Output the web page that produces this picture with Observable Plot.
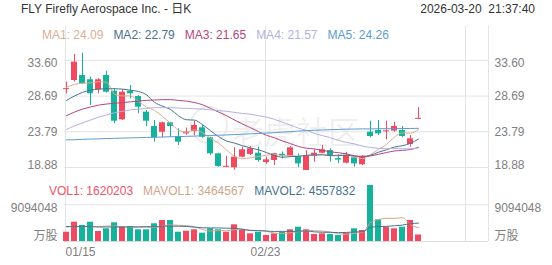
<!DOCTYPE html>
<html><head><meta charset="utf-8">
<script src="https://cdn.jsdelivr.net/npm/d3@7"></script>
<script src="https://cdn.jsdelivr.net/npm/@observablehq/plot@0.6"></script>
<style>
body{margin:0;background:#fff;}
#wrap{position:relative;width:552px;height:265px;overflow:hidden;font-family:"Liberation Sans",Arial,"Noto Sans CJK SC",sans-serif;font-size:12px;}
.abs{position:absolute;white-space:pre;line-height:14px;}
.row{position:absolute;display:flex;gap:10px;white-space:pre;line-height:14px;}
#price,#vol{position:absolute;left:0;}
#price{top:0;} #vol{top:175px;}
#wm{position:absolute;left:232px;top:107px;color:rgba(0,0,0,0.07);font-size:32px;font-family:"Noto Sans CJK SC",sans-serif;white-space:pre;}
#wmc{position:absolute;left:190px;top:106px;width:34px;height:34px;border:2px solid rgba(0,0,0,0.07);border-radius:50%;}
</style></head><body><div id="wrap">
<div id="wmc"></div><div id="wm">老虎社区</div>
<div id="price"></div><div id="vol"></div>
</div>
<script>
// ---- data ----
const dates = ["01/15","01/16","01/20","01/21","01/22","01/23","01/26","01/27","01/28","01/29","01/30","02/02","02/03","02/04","02/05","02/06","02/09","02/10","02/11","02/12","02/13","02/17","02/18","02/19","02/20","02/23","02/24","02/25","02/26","02/27","03/02","03/03","03/04","03/05","03/06","03/09","03/10","03/11","03/12","03/13","03/16","03/17","03/18","03/19","03/20"];
const open  = [29.60,30.83,31.52,30.93,29.55,31.52,29.36,25.43,29.36,28.63,26.48,24.51,23.73,25.02,23.14,23.50,23.83,24.33,22.96,20.76,18.92,18.84,20.30,20.67,20.84,19.57,19.84,20.70,20.39,20.39,18.47,20.39,20.84,21.20,20.10,19.47,20.20,19.25,23.73,23.96,23.80,23.88,23.96,22.04,25.56];
const high  = [30.60,34.40,34.58,31.28,31.06,32.10,29.70,29.55,30.14,28.77,26.71,25.34,25.10,25.10,24.20,24.30,25.24,24.65,23.04,20.84,20.40,21.60,21.67,21.76,21.67,20.30,20.84,21.00,21.76,20.76,21.20,21.31,21.90,21.45,20.65,20.98,20.30,20.53,25.24,25.34,25.24,25.10,24.51,23.27,27.10];
const low   = [29.00,30.60,30.30,27.40,29.00,29.10,24.90,25.34,28.30,26.26,24.50,22.36,22.96,23.04,21.90,23.30,23.27,22.90,20.53,18.92,18.85,18.50,20.20,20.53,19.60,19.30,19.15,20.07,20.30,18.84,18.47,19.60,20.76,19.60,19.40,19.38,18.92,19.15,22.96,23.27,22.68,23.73,22.96,21.67,25.56];
const close = [29.69,33.35,30.38,29.00,30.93,29.22,25.24,29.22,29.00,27.16,25.24,22.96,25.02,24.51,22.36,23.73,24.65,23.04,20.76,19.02,19.02,20.30,21.31,21.45,19.84,19.93,20.76,20.50,21.58,19.38,20.53,20.84,21.31,20.40,19.90,20.53,19.38,20.30,23.14,23.50,23.90,24.51,23.14,22.82,25.56];
const ma1 = [29.90,30.30,30.45,30.50,30.67,30.58,28.95,28.72,28.72,27.97,27.17,26.72,25.88,24.98,24.02,23.72,24.05,23.66,22.91,22.24,21.29,20.42,20.08,20.22,20.38,20.57,20.66,20.50,20.52,20.43,20.55,20.57,20.73,20.49,20.60,20.60,20.30,20.10,20.65,21.37,22.04,23.07,23.64,23.60,24.09];
const ma2 = [28.10,28.70,29.20,29.50,29.65,29.70,29.70,29.65,29.50,29.32,28.87,27.84,27.30,26.85,25.99,25.44,25.39,24.77,23.94,23.13,22.51,22.24,21.87,21.56,21.31,20.93,20.54,20.29,20.37,20.41,20.56,20.61,20.61,20.51,20.51,20.57,20.44,20.42,20.57,20.98,21.32,21.69,21.87,22.20,22.79];
const ma3 = [26.00,26.50,26.90,27.20,27.45,27.60,27.70,27.80,27.90,28.00,28.10,28.15,28.20,28.20,28.10,28.00,27.80,27.50,27.00,26.50,26.00,25.40,24.85,24.35,23.80,23.30,22.96,22.53,22.16,21.77,21.53,21.43,21.24,21.03,20.91,20.75,20.49,20.35,20.47,20.69,20.94,21.15,21.24,21.35,21.65];
const ma4 = [24.10,24.60,25.00,25.40,25.80,26.10,26.40,26.60,26.80,26.90,27.00,27.10,27.10,27.10,27.05,27.00,26.95,26.90,26.80,26.70,26.60,26.45,26.30,26.20,26.00,25.80,25.50,25.10,24.70,24.28,23.98,23.56,23.26,22.97,22.61,22.32,22.12,21.82,21.63,21.51,21.46,21.51,21.45,21.45,21.57];
const ma5 = [22.68,22.70,22.75,22.79,22.81,22.86,22.88,22.92,22.95,22.97,23.01,23.03,23.07,23.10,23.12,23.16,23.19,23.24,23.27,23.32,23.35,23.41,23.45,23.51,23.55,23.61,23.67,23.75,23.80,23.89,23.95,24.00,24.03,24.08,24.10,24.15,24.16,24.18,24.18,24.20,24.21,24.21,24.23,24.24,24.26];
const volume = [2300000,4780000,3960000,4780000,2480000,3150000,4630000,3540000,3720000,2900000,2900000,4390000,5200000,5200000,2300000,2550000,2900000,2060000,3150000,2900000,2300000,4140000,2800000,1900000,2300000,1490000,1900000,2300000,2900000,3540000,2900000,1730000,1900000,1730000,1490000,2060000,3150000,2730000,13900000,5380000,3540000,3150000,3540000,5200000,1620203];
const mavol1 = [3600000,3700000,3700000,3700000,3660000,3830000,3800000,3720000,3500000,3590000,3540000,3490000,3820000,4120000,4000000,3930000,3630000,3000000,2590000,2710000,2660000,2910000,3060000,2810000,2690000,2530000,2080000,1980000,2180000,2430000,2710000,2670000,2590000,2360000,1950000,1780000,2070000,2230000,4670000,5440000,5740000,5740000,5900000,4160000,3464567];
const mavol2 = [3700000,3700000,3700000,3700000,3600000,3600000,3600000,3600000,3600000,3620000,3680000,3650000,3770000,3810000,3790000,3730000,3560000,3410000,3360000,3360000,3300000,3270000,3030000,2700000,2700000,2590000,2490000,2520000,2490000,2560000,2620000,2380000,2290000,2270000,2190000,2250000,2370000,2410000,3510000,3700000,3760000,3900000,4070000,4410000,4557832];
const priceTicks = [18.88, 23.79, 28.69, 33.60];
const volTickTop = 9094048;
const xTickIndex = [0, 25];
const maNames = ["MA1","MA2","MA3","MA4","MA5"];
const maLegend = ["24.09","22.79","21.65","21.57","24.26"];
const volNames = ["VOL1","MAVOL1","MAVOL2"];
const volLegend = ["1620203","3464567","4557832"];
const titleText = "FLY Firefly Aerospace Inc. - 日K";
const timeText = "2026-03-20  21:37:40";

// ---- styles ----
const RED = "#f04a60", GREEN = "#17b29b", GRID = "#e4e4e4", LABEL = "#808080";
const maColors = ["#dcae94","#48728f","#b4457e","#b0b1e4","#5a9cd2"];
const volColors = ["#ef5366","#cfa68c","#48728f"];
const FONT = "Liberation Sans, Arial, Noto Sans CJK SC, sans-serif";
const X0 = -0.25, X1 = 52.75, HW = 3/8;

const wrap = document.getElementById("wrap");
function addText(txt, css){ const d=document.createElement("div"); d.className="abs"; d.textContent=txt; Object.assign(d.style, css); wrap.appendChild(d); return d; }
addText(titleText, {left:"21px", top:"2px", color:"#333"});
addText(timeText, {right:"17px", top:"2px", color:"#333"});
function legendRow(names, vals, colors, left, top){
  const r=document.createElement("div"); r.className="row"; r.style.left=left+"px"; r.style.top=top+"px";
  names.forEach((n,k)=>{ const s=document.createElement("span"); s.textContent=n+": "+vals[k]; s.style.color=colors[k]; r.appendChild(s); });
  wrap.appendChild(r);
}
legendRow(maNames, maLegend, maColors, 42, 28);
legendRow(volNames, volLegend, volColors, 49, 184);

const candles = dates.map((d,i)=>{
  const o=open[i], c=close[i];
  let lo=Math.min(o,c), hi=Math.max(o,c);
  if (hi-lo < 0.14){ const m=(hi+lo)/2; lo=m-0.07; hi=m+0.07; }
  return {i, o, c, h:high[i], l:low[i], lo, hi, color: c>=o ? RED : GREEN, v: volume[i]};
});
const maSeries = [ma1,ma2,ma3,ma4,ma5];

const price = Plot.plot({
  width:552, height:180, marginLeft:64, marginRight:64, marginTop:26, marginBottom:5,
  style:{fontFamily:FONT, fontSize:"12px", background:"transparent", overflow:"visible"},
  x:{type:"linear", domain:[X0,X1], axis:null},
  y:{type:"linear", domain:[17.781, 38.248], axis:null},
  marks:[
    Plot.ruleY(priceTicks, {stroke:GRID}),
    Plot.ruleX([0,25,50], {stroke:GRID, dx:-1}),
    Plot.ruleX([X1], {stroke:GRID}),
    Plot.ruleX(candles, {x:"i", y1:"l", y2:"h", stroke:"color"}),
    Plot.rect(candles, {x1:d=>d.i-HW, x2:d=>d.i+HW, y1:"lo", y2:"hi", fill:"color"}),
    ...maSeries.map((s,k)=>Plot.line(s, {x:(d,i)=>i, y:d=>d, stroke:maColors[k], strokeWidth:1, curve:"monotone-x"})),
    Plot.text(priceTicks.slice(1,3), {y:d=>d, text:d=>d.toFixed(2), frameAnchor:"left", textAnchor:"end", dx:-7, fill:LABEL, fontSize:12}),
    Plot.text(priceTicks.slice(1,3), {y:d=>d, text:d=>d.toFixed(2), frameAnchor:"right", textAnchor:"start", dx:6, fill:LABEL, fontSize:12}),
    Plot.text(priceTicks.slice(3), {y:d=>d, text:d=>d.toFixed(2), frameAnchor:"left", textAnchor:"end", dx:-7, dy:3, fill:LABEL, fontSize:12}),
    Plot.text(priceTicks.slice(3), {y:d=>d, text:d=>d.toFixed(2), frameAnchor:"right", textAnchor:"start", dx:6, dy:3, fill:LABEL, fontSize:12}),
    Plot.text(priceTicks.slice(0,1), {y:d=>d, text:d=>d.toFixed(2), frameAnchor:"left", textAnchor:"end", dx:-7, dy:-2, fill:LABEL, fontSize:12}),
    Plot.text(priceTicks.slice(0,1), {y:d=>d, text:d=>d.toFixed(2), frameAnchor:"right", textAnchor:"start", dx:6, dy:-2, fill:LABEL, fontSize:12})
  ]
});
document.getElementById("price").appendChild(price);

const vol = Plot.plot({
  width:552, height:90, marginLeft:64, marginRight:64, marginTop:0, marginBottom:24,
  style:{fontFamily:FONT, fontSize:"12px", background:"transparent", overflow:"visible"},
  x:{type:"linear", domain:[X0,X1], axis:null},
  y:{type:"linear", domain:[0,16354000], axis:null},
  marks:[
    Plot.ruleY([volTickTop], {stroke:GRID}),
    Plot.ruleY([0], {stroke:"#dcdcdc"}),
    Plot.ruleX([0,25,50], {stroke:GRID, dx:-1}),
    Plot.ruleX([X1], {stroke:GRID}),
    Plot.rect(candles, {x1:d=>d.i-HW, x2:d=>d.i+HW, y1:0, y2:"v", fill:"color"}),
    Plot.line(mavol1, {x:(d,i)=>i, y:d=>d, stroke:volColors[1], strokeWidth:1, curve:"monotone-x"}),
    Plot.line(mavol2, {x:(d,i)=>i, y:d=>d, stroke:volColors[2], strokeWidth:1, curve:"monotone-x"}),
    Plot.text([volTickTop], {y:d=>d, text:d=>String(d), frameAnchor:"left", textAnchor:"end", dx:-7, dy:3, fill:LABEL, fontSize:12}),
    Plot.text([volTickTop], {y:d=>d, text:d=>String(d), frameAnchor:"right", textAnchor:"start", dx:6, dy:3, fill:LABEL, fontSize:12}),
    Plot.text([0], {y:d=>d, text:()=>"万股", frameAnchor:"left", textAnchor:"end", dx:-7, dy:-5, fill:LABEL, fontSize:12}),
    Plot.text([0], {y:d=>d, text:()=>"万股", frameAnchor:"right", textAnchor:"start", dx:6, dy:-5, fill:LABEL, fontSize:12}),
    Plot.text(xTickIndex.slice(0,1), {x:d=>d, text:d=>dates[d], frameAnchor:"bottom", lineAnchor:"middle", textAnchor:"start", dx:-1, dy:11, fill:LABEL, fontSize:12}),
    Plot.text(xTickIndex.slice(1), {x:d=>d, text:d=>dates[d], frameAnchor:"bottom", lineAnchor:"middle", textAnchor:"middle", dx:-1, dy:11, fill:LABEL, fontSize:12})
  ]
});
document.getElementById("vol").appendChild(vol);
</script>
</body></html>
